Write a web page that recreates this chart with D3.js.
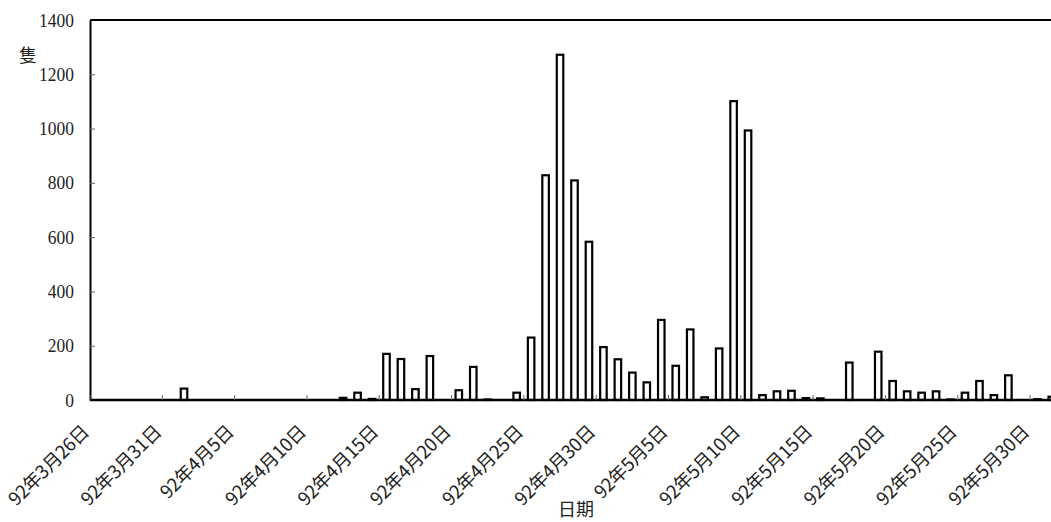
<!DOCTYPE html>
<html>
<head>
<meta charset="utf-8">
<script src="https://cdn.jsdelivr.net/npm/d3@7"></script>
<style>
  body { margin: 0; background: #fff; }
  svg { display: block; }
</style>
</head>
<body>
<div id="container"></div>
<script>
/**
 * CONSTANTS AND GLOBALS
 * */
const width = 1051,
  height = 522,
  margin = { top: 20, bottom: 122, left: 90, right: -8 };

// one category per day, 92年3月26日 .. 92年5月31日
const days = d3.timeDay.range(new Date(2003, 2, 26), new Date(2003, 5, 1));

// 隻 per day
const counts = [
  0, 0, 0, 0, 0, 0,                                   // 3/26 - 3/31
  42, 0, 0, 0, 0, 0, 0, 0, 0, 0,                      // 4/1 - 4/10
  0, 8, 27, 4, 170, 151, 40, 162, 0, 36,              // 4/11 - 4/20
  122, 2, 0, 27, 230, 828, 1272, 809, 583, 195,       // 4/21 - 4/30
  150, 101, 65, 295, 126, 260, 10, 190, 1101, 993,    // 5/1 - 5/10
  18, 32, 34, 7, 6, 0, 138, 0, 178, 70,               // 5/11 - 5/20
  32, 27, 32, 2, 27, 70, 18, 91, 0, 3, 12             // 5/21 - 5/31
];

const yTicks = [0, 200, 400, 600, 800, 1000, 1200, 1400];

const tickLabels = [
  "92年3月26日", "92年3月31日", "92年4月5日", "92年4月10日", "92年4月15日",
  "92年4月20日", "92年4月25日", "92年4月30日", "92年5月5日", "92年5月10日",
  "92年5月15日", "92年5月20日", "92年5月25日", "92年5月30日"
];

const yTitle = "隻",
  xTitle = "日期";

/**
 * DRAW
 * */
const svg = d3.select("#container")
  .append("svg")
  .attr("width", width)
  .attr("height", height)
  .style("background", "#fff");

const x = d3.scaleBand()
  .domain(d3.range(days.length))
  .range([margin.left, width - margin.right])
  .padding(0);

const y = d3.scaleLinear()
  .domain([0, 1400])
  .range([height - margin.bottom, margin.top]);

const barW = x.bandwidth() * 0.45;

// y axis, ticks pointing inward
const yAxis = svg.append("g")
  .attr("transform", `translate(${margin.left},0)`)
  .call(d3.axisLeft(y)
    .tickValues(yTicks)
    .tickFormat(d3.format("d"))
    .tickSize(-5)
    .tickSizeOuter(0)
    .tickPadding(16))
  .attr("font-family", "Liberation Serif")
  .attr("font-size", 19);

yAxis.select(".domain").attr("stroke", "#000").attr("stroke-width", 2);
yAxis.selectAll(".tick line").attr("stroke", "#666").attr("stroke-width", 1);
yAxis.selectAll(".tick text")
  .attr("fill", "#222")
  .attr("transform", "scale(0.92,1)")
  .attr("x", -16 / 0.92);

// top frame line
svg.append("line")
  .attr("x1", margin.left).attr("x2", width - margin.right)
  .attr("y1", y(1400)).attr("y2", y(1400))
  .attr("stroke", "#000").attr("stroke-width", 2);

// bars
svg.selectAll("rect.bar")
  .data(counts)
  .join("rect")
  .attr("class", "bar")
  .attr("x", (d, i) => x(i) + (x.bandwidth() - barW) / 2)
  .attr("y", d => y(d))
  .attr("width", barW)
  .attr("height", d => y(0) - y(d))
  .attr("fill", "#fff")
  .attr("stroke", "#000")
  .attr("stroke-width", 2.2);

// baseline
svg.append("line")
  .attr("x1", margin.left).attr("x2", width - margin.right)
  .attr("y1", y(0)).attr("y2", y(0))
  .attr("stroke", "#000").attr("stroke-width", 2.5);

// x ticks every 5 days, at category boundaries
const labelIdx = d3.range(0, days.length, 5);

svg.selectAll("line.xtick")
  .data(labelIdx)
  .join("line")
  .attr("class", "xtick")
  .attr("x1", i => x(i)).attr("x2", i => x(i))
  .attr("y1", y(0)).attr("y2", y(0) - 5)
  .attr("stroke", "#666").attr("stroke-width", 1);

svg.selectAll("text.xlabel")
  .data(labelIdx)
  .join("text")
  .attr("class", "xlabel")
  .attr("transform", i => `translate(${x(i) + x.bandwidth() / 2 - 7},${y(0) + 33}) rotate(-45)`)
  .attr("text-anchor", "end")
  .attr("fill", "#222")
  .style("font-family", "'Noto Sans CJK TC', 'Noto Sans CJK SC', sans-serif")
  .style("font-size", "18.5px")
  .style("letter-spacing", "-0.3px")
  .text((i, k) => tickLabels[k]);

// axis titles
svg.append("text")
  .attr("x", 28).attr("y", 62)
  .attr("text-anchor", "middle")
  .attr("fill", "#222")
  .style("font-family", "'Noto Sans CJK TC', sans-serif")
  .style("font-size", "18px")
  .text(yTitle);

svg.append("text")
  .attr("x", 576).attr("y", 516)
  .attr("text-anchor", "middle")
  .attr("fill", "#222")
  .style("font-family", "'Noto Sans CJK TC', sans-serif")
  .style("font-size", "18px")
  .text(xTitle);
</script>
</body>
</html>
